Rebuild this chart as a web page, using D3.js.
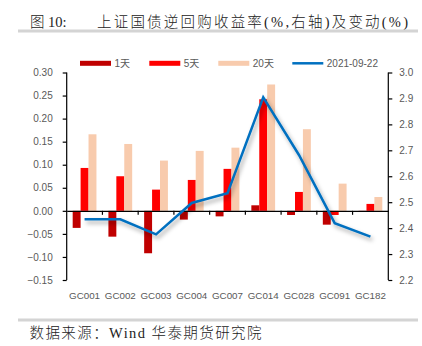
<!DOCTYPE html>
<html><head><meta charset="utf-8">
<script src="https://cdn.jsdelivr.net/npm/d3@7"></script>
<style>
html,body{margin:0;padding:0;background:#fff;}
svg{display:block;}
</style></head>
<body>
<svg id="c" width="422" height="346"></svg>
<script>
const categories = ["GC001","GC002","GC003","GC004","GC007","GC014","GC028","GC091","GC182"];
const seriesNames = ["1天","5天","20天"];
const d1 = [-0.037,-0.056,-0.092,-0.019,-0.012,0.012,-0.009,-0.030,-0.001];
const d5 = [0.093,0.075,0.046,0.067,0.091,0.242,0.041,-0.009,0.015];
const d20 = [0.166,0.145,0.109,0.130,0.137,0.274,0.177,0.059,0.030];
const lineName = "2021-09-22";
const lineValues = [2.434,2.434,2.376,2.497,2.535,2.904,2.682,2.419,2.367];
const leftTicks = [-0.15,-0.10,-0.05,0,0.05,0.10,0.15,0.20,0.25,0.30];
const rightTicks = [2.2,2.3,2.4,2.5,2.6,2.7,2.8,2.9,3.0];
const colors = ["#C00000","#FF0000","#F8CBAD"];
const lineColor = "#0070C0";

const svg = d3.select("#c");
const L = 66.7, R = 388.3, T = 72.5, B = 280;
const txtFont = "'Liberation Sans', Arial, sans-serif";
const cjkSerif = "'Liberation Serif', 'Noto Sans CJK SC', serif";

const defs = svg.append("defs");
const f = defs.append("filter").attr("id","sh").attr("x","-20%").attr("y","-20%").attr("width","140%").attr("height","160%");
f.append("feDropShadow").attr("dx",2).attr("dy",3).attr("stdDeviation",2).attr("flood-color","#000").attr("flood-opacity",0.35);

// title
svg.append("text").attr("x",30).attr("y",26.5).attr("font-family",cjkSerif).attr("font-weight",300).attr("font-size",14.5).attr("fill","#222").text("图 10:");
svg.append("text").attr("x",97).attr("y",26.5).attr("font-family",cjkSerif).attr("font-weight",300).attr("font-size",14.5).attr("fill","#222")
  .attr("textLength",311).attr("lengthAdjust","spacing").text("上证国债逆回购收益率(%,右轴)及变动(%)");
svg.append("rect").attr("x",18).attr("y",29.5).attr("width",400).attr("height",3).attr("fill","#d4d4d4");
svg.append("rect").attr("x",18).attr("y",318.5).attr("width",400).attr("height",3).attr("fill","#d4d4d4");
svg.append("text").attr("x",29.5).attr("y",338).attr("font-family",cjkSerif).attr("font-weight",300).attr("font-size",14.5).attr("fill","#222")
  .attr("textLength",232).attr("lengthAdjust","spacing").text("数据来源：Wind 华泰期货研究院");

// scales
const x = d3.scaleBand().domain(categories).range([L,R]).padding(0);
const gw = x.bandwidth()*0.665;
const x1 = d3.scaleBand().domain(seriesNames).range([0,gw]).padding(0);
const y = d3.scaleLinear().domain([-0.15,0.30]).range([B,T]);
const y2 = d3.scaleLinear().domain([2.2,3.0]).range([B,T]);

// bars
const allSeries = [d1,d5,d20];
seriesNames.forEach((s,si)=>{
  svg.append("g").selectAll("rect").data(categories).join("rect")
    .attr("x",c=>x(c)+(x.bandwidth()-gw)/2+x1(s))
    .attr("width",x1.bandwidth())
    .attr("y",(c,i)=>y(Math.max(0,allSeries[si][i])))
    .attr("height",(c,i)=>Math.abs(y(allSeries[si][i])-y(0)))
    .attr("fill",colors[si]);
});

// axes
const ax = svg.append("g").attr("transform",`translate(${L},0)`)
  .call(d3.axisLeft(y).tickValues(leftTicks).tickFormat(d3.format(".2f")).tickSize(4).tickPadding(10));
const ax2 = svg.append("g").attr("transform",`translate(${R},0)`)
  .call(d3.axisRight(y2).tickValues(rightTicks).tickFormat(d3.format(".1f")).tickSize(4).tickPadding(7));
[ax,ax2].forEach(g=>{
  g.select(".domain").attr("stroke","#000").attr("stroke-width",1.2).attr("d",`M0,${T}V${B}`);
  g.selectAll(".tick line").attr("stroke","#000").attr("stroke-width",1.2);
  g.selectAll("text").attr("font-family",txtFont).attr("font-size",10).attr("fill","#595959");
});

// zero line with ticks
const xa = svg.append("g").attr("transform",`translate(0,${y(0)})`)
  .call(d3.axisBottom(x).tickSize(0).tickFormat(""));
xa.select(".domain").attr("stroke","#000").attr("stroke-width",1.2);
svg.append("g").selectAll("line").data(categories.slice(1)).join("line")
  .attr("x1",c=>x(c)).attr("x2",c=>x(c)).attr("y1",y(0)).attr("y2",y(0)+4)
  .attr("stroke","#000").attr("stroke-width",1.2);
svg.append("g").selectAll("text").data(categories).join("text")
  .attr("x",c=>x(c)+x.bandwidth()/2).attr("y",299).attr("text-anchor","middle")
  .attr("font-family",txtFont).attr("font-size",9.8).attr("fill","#595959").text(c=>c);

// line
const line = d3.line().x((d,i)=>x(categories[i])+x.bandwidth()/2).y(d=>y2(d));
svg.append("path").datum(lineValues).attr("d",line).attr("fill","none")
  .attr("stroke",lineColor).attr("stroke-width",2.5).attr("stroke-linejoin","miter").attr("filter","url(#sh)");

// legend
const legItems = [
  {n:seriesNames[0],c:colors[0],x:80,t:"bar"},
  {n:seriesNames[1],c:colors[1],x:149.3,t:"bar"},
  {n:seriesNames[2],c:colors[2],x:218.3,t:"bar"},
  {n:lineName,c:lineColor,x:292.3,t:"line"}
];
const lg = svg.append("g");
legItems.forEach(it=>{
  if(it.t==="bar") lg.append("rect").attr("x",it.x).attr("y",60.8).attr("width",31).attr("height",5).attr("fill",it.c);
  else lg.append("line").attr("x1",it.x).attr("x2",it.x+31).attr("y1",63.3).attr("y2",63.3).attr("stroke",it.c).attr("stroke-width",2.5);
  lg.append("text").attr("x",it.x+34.5).attr("y",63.3).attr("dy","0.35em").attr("font-family",txtFont+",'Noto Sans CJK SC'")
    .attr("font-size",10).attr("fill","#595959").text(it.n);
});
</script>
</body></html>
